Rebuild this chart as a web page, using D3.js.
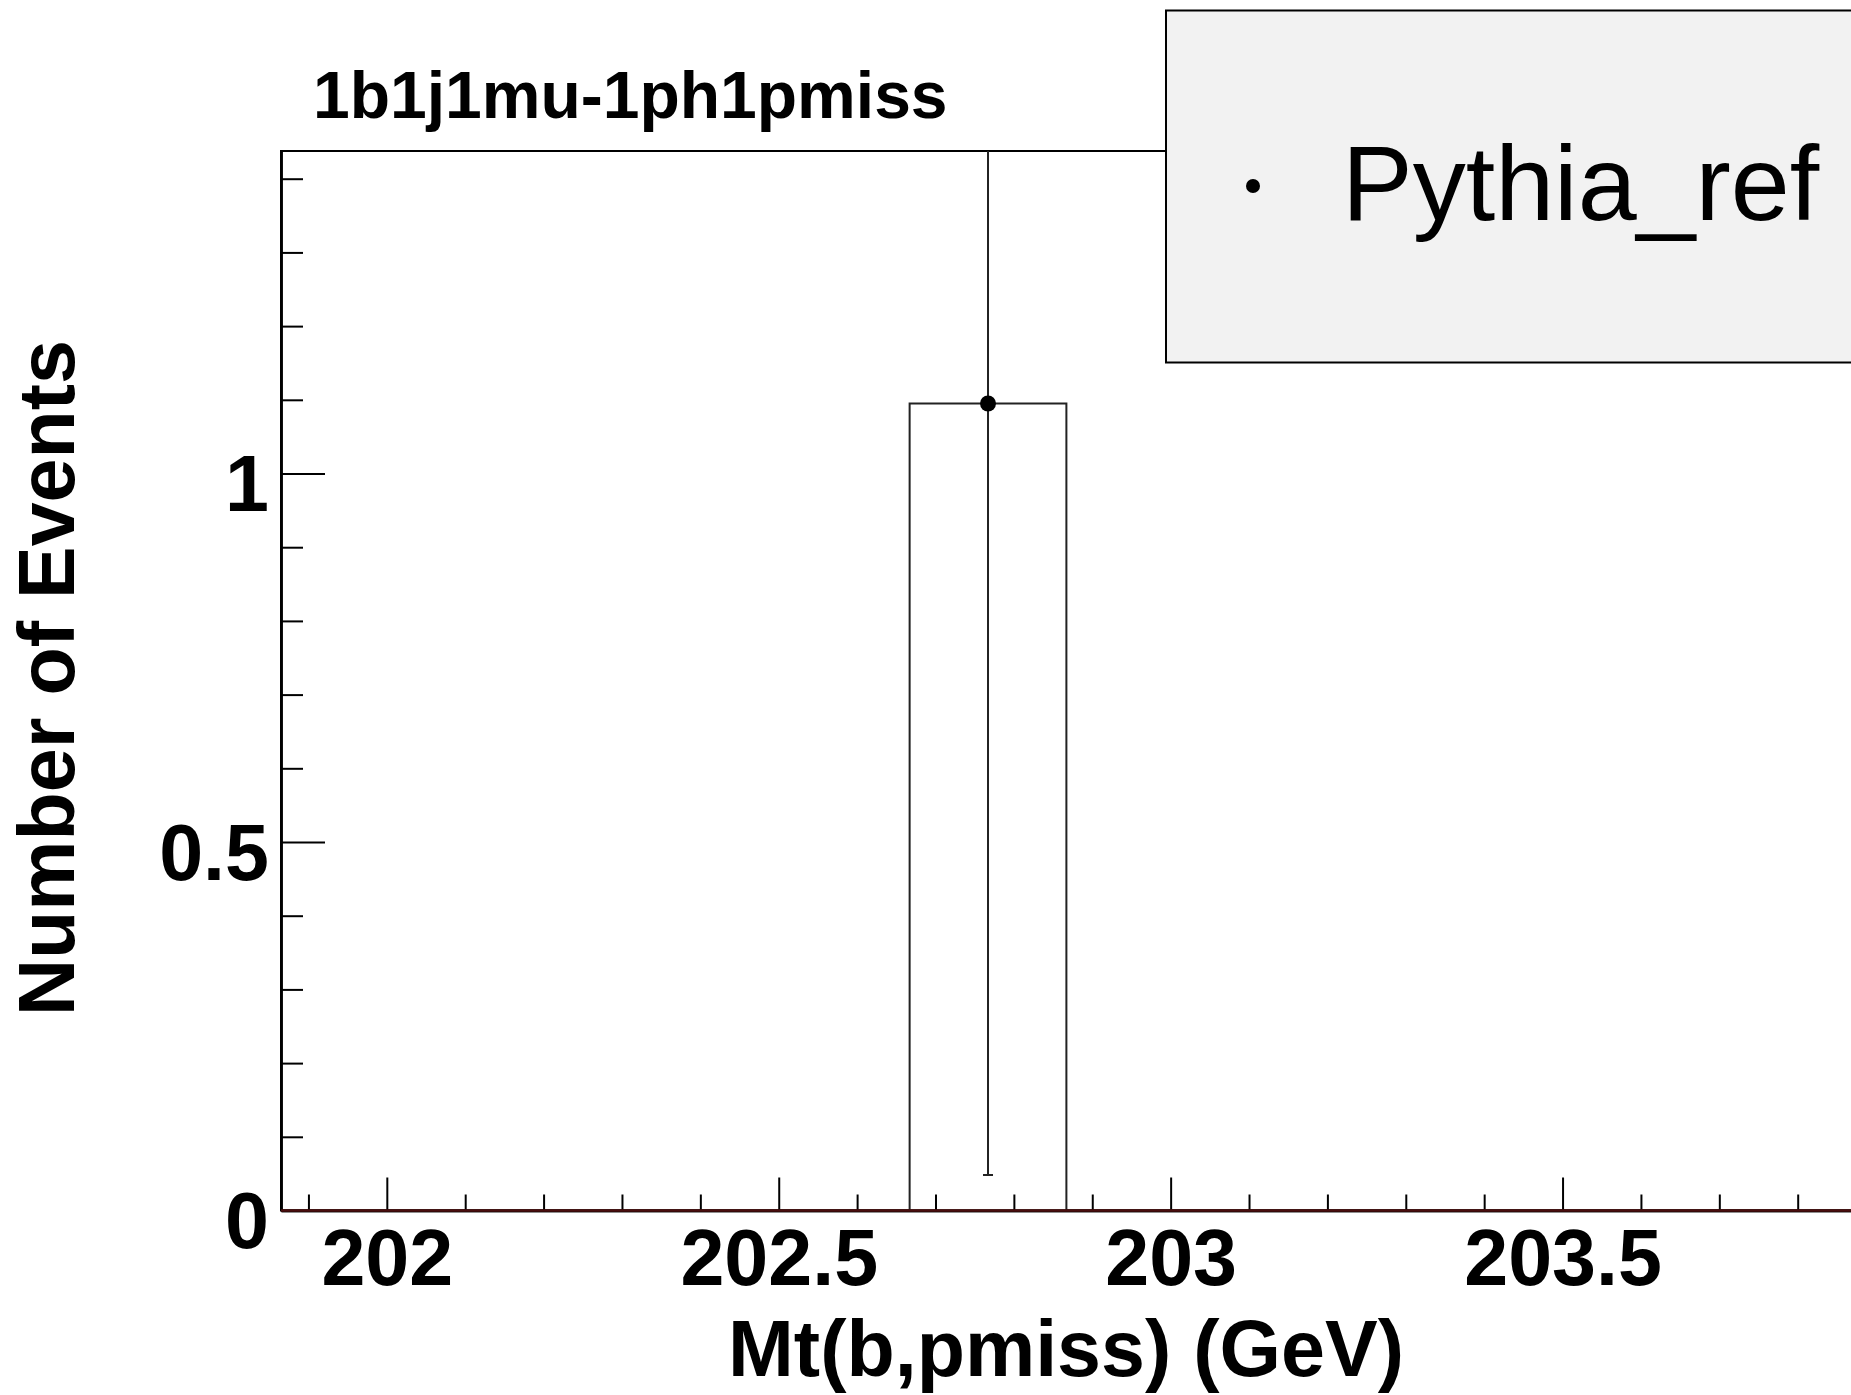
<!DOCTYPE html>
<html>
<head>
<meta charset="utf-8">
<script src="https://cdn.jsdelivr.net/npm/d3@7"></script>
<style>
  body { margin: 0; background: #fff; }
  svg text { font-family: "Liberation Sans", Arial, sans-serif; }
</style>
</head>
<body>
<svg id="chart" width="1851" height="1395"></svg>
<script>
// histogram bins (low edges + last upper edge)
var binEdges = [201.867, 202.067, 202.267, 202.467, 202.667, 202.867, 203.067, 203.267, 203.467, 203.667, 203.867];
var counts = [0, 0, 0, 0, 1.095, 0, 0, 0, 0, 0];
var errors = [0, 0, 0, 0, 1.047, 0, 0, 0, 0, 0];

var xMajor = [202, 202.5, 203, 203.5];
var xTickLabels = ["202", "202.5", "203", "203.5"];
var yMajor = [0, 0.5, 1];
var yTickLabels = ["0", "0.5", "1"];

var title = "1b1j1mu-1ph1pmiss";
var xTitle = "Mt(b,pmiss) (GeV)";
var yTitle = "Number of Events";
var legendLabel = "Pythia_ref";

var frameLeft = 281, frameRight = 1851, frameTop = 151, frameBottom = 1210.5;

var svg = d3.select("#chart");
svg.append("rect").attr("width", 1851).attr("height", 1395).attr("fill", "#fff");

var x = d3.scaleLinear().domain([201.865, 203.868]).range([frameLeft, frameRight]);
var y = d3.scaleLinear().domain([0, 1.4376]).range([frameBottom, frameTop]);

// minor ticks every 0.1
var xMinor = d3.range(201.9, 203.86, 0.1).map(function(v){ return +v.toFixed(1); })
  .filter(function(v){ return xMajor.indexOf(v) < 0; });
var yMinor = d3.range(0.1, 1.44, 0.1).map(function(v){ return +v.toFixed(1); })
  .filter(function(v){ return yMajor.indexOf(v) < 0; });

// frame
svg.append("rect")
  .attr("x", frameLeft).attr("y", frameTop)
  .attr("width", frameRight - frameLeft + 10).attr("height", frameBottom - frameTop)
  .attr("fill", "none").attr("stroke", "#000").attr("stroke-width", 2);

// histogram outline as steps
var steps = [];
counts.forEach(function(c, i){
  steps.push([binEdges[i], c]);
  steps.push([binEdges[i + 1], c]);
});
var line = d3.line().x(function(d){ return x(d[0]); }).y(function(d){ return y(d[1]); });
svg.append("path")
  .attr("d", line(steps))
  .attr("fill", "none").attr("stroke", "#222").attr("stroke-width", 2);

// error bars and markers, only filled bins
var pts = counts.map(function(c, i){
  return { x: (binEdges[i] + binEdges[i + 1]) / 2, y: c, e: errors[i] };
}).filter(function(d){ return d.y > 0; });

svg.append("clipPath").attr("id", "frameclip")
  .append("rect").attr("x", frameLeft).attr("y", frameTop)
  .attr("width", frameRight - frameLeft).attr("height", frameBottom - frameTop);

var g = svg.append("g").attr("clip-path", "url(#frameclip)");
g.selectAll(".err").data(pts).enter().append("line")
  .attr("x1", function(d){ return x(d.x); }).attr("x2", function(d){ return x(d.x); })
  .attr("y1", function(d){ return y(d.y - d.e); }).attr("y2", function(d){ return y(d.y + d.e); })
  .attr("stroke", "#222").attr("stroke-width", 2);
g.selectAll(".cap").data(pts).enter().append("line")
  .attr("x1", function(d){ return x(d.x) - 5; }).attr("x2", function(d){ return x(d.x) + 5; })
  .attr("y1", function(d){ return y(d.y - d.e); }).attr("y2", function(d){ return y(d.y - d.e); })
  .attr("stroke", "#222").attr("stroke-width", 2);
g.selectAll(".mark").data(pts).enter().append("circle")
  .attr("cx", function(d){ return x(d.x); }).attr("cy", function(d){ return y(d.y); })
  .attr("r", 8).attr("fill", "#000");

// axes
var xAxis = d3.axisBottom(x).tickValues(xMajor)
  .tickFormat(function(d, i){ return xTickLabels[i]; })
  .tickSize(-33).tickSizeOuter(0).tickPadding(18);
var xAxisMinor = d3.axisBottom(x).tickValues(xMinor).tickFormat("").tickSize(-16).tickSizeOuter(0);
var yAxis = d3.axisLeft(y).tickValues(yMajor)
  .tickFormat(function(d, i){ return yTickLabels[i]; })
  .tickSize(-44).tickSizeOuter(0).tickPadding(12);
var yAxisMinor = d3.axisLeft(y).tickValues(yMinor).tickFormat("").tickSize(-22).tickSizeOuter(0);

function styleAxis(sel){
  sel.selectAll("line").attr("stroke", "#000").attr("stroke-width", 2);
  sel.select(".domain").attr("stroke", "#000").attr("stroke-width", 2.5);
  sel.selectAll("text").attr("fill", "#000")
    .style("font-family", "'Liberation Sans', Arial, sans-serif")
    .style("font-weight", "bold").style("font-size", "79px");
}

svg.append("g").attr("transform", "translate(0," + frameBottom + ")").call(xAxisMinor).call(styleAxis);
svg.append("g").attr("transform", "translate(0," + frameBottom + ")").call(xAxis).call(styleAxis);
svg.append("g").attr("transform", "translate(" + frameLeft + ",0)").call(yAxisMinor).call(styleAxis);
var ya = svg.append("g").attr("transform", "translate(" + frameLeft + ",0)").call(yAxis).call(styleAxis);
ya.selectAll("text").attr("dy", "0.47em");

// zero-level line of the second (empty) histogram
svg.append("line")
  .attr("x1", frameLeft).attr("x2", frameRight).attr("y1", y(0)).attr("y2", y(0))
  .attr("stroke", "#4a0e0e").attr("stroke-width", 2.5);

// title
svg.append("text").attr("x", 313).attr("y", 118)
  .style("font-weight", "bold").style("font-size", "66px").text(title);

// axis titles
svg.append("text")
  .attr("x", (frameLeft + frameRight) / 2).attr("y", 1376)
  .attr("text-anchor", "middle")
  .style("font-weight", "bold").style("font-size", "79px").text(xTitle);
svg.append("text")
  .attr("transform", "translate(74," + 678 + ") rotate(-90)")
  .attr("text-anchor", "middle")
  .style("font-weight", "bold").style("font-size", "79px").text(yTitle);

// legend
svg.append("rect").attr("x", 1166).attr("y", 10.5).attr("width", 700).attr("height", 352)
  .attr("fill", "#f2f2f2").attr("stroke", "#000").attr("stroke-width", 2);
svg.append("circle").attr("cx", 1253).attr("cy", 186).attr("r", 7).attr("fill", "#000");
svg.append("text").attr("x", 1342).attr("y", 220)
  .style("font-size", "106px").text(legendLabel);
</script>
</body>
</html>
